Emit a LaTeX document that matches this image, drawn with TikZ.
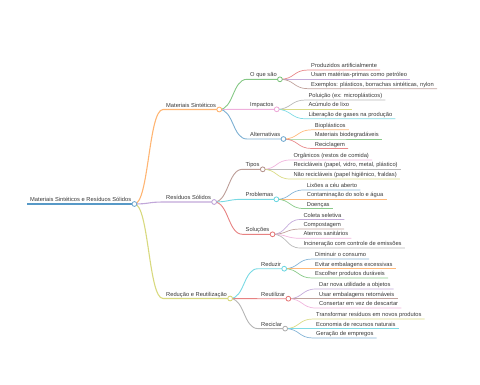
\documentclass[tikz,border=0pt]{standalone}
\usepackage{fontspec}
\setmainfont{Liberation Sans}
\usepackage{xcolor}
\usepackage{tikz}
\usetikzlibrary{calc}

\definecolor{mmblue}{HTML}{1F77B4}
\definecolor{mmorange}{HTML}{FF7F0E}
\definecolor{mmgreen}{HTML}{2CA02C}
\definecolor{mmred}{HTML}{D62728}
\definecolor{mmpurple}{HTML}{9467BD}
\definecolor{mmbrown}{HTML}{8C564B}
\definecolor{mmpink}{HTML}{E377C2}
\definecolor{mmgray}{HTML}{7F7F7F}
\definecolor{mmolive}{HTML}{BCBD22}
\definecolor{mmcyan}{HTML}{17BECF}

\begin{document}
\begin{tikzpicture}[x=1pt,y=-1pt,font=\fontsize{5.75pt}{7pt}\selectfont,
  lbl/.style={anchor=south west,inner xsep=3pt,inner ysep=1.1pt,text height=4.2pt,text depth=1.2pt,text=black!78},
  link/.style={to path={.. controls +(14.5,0) and +(-14.5,0) .. (\tikztotarget) \tikztonodes}},
  lvlone/.style={draw=#1!58!white,line width=1.1pt},
  lvltwo/.style={draw=#1!58!white,line width=0.9pt},
  leaf/.style={draw=#1!55!white,line width=0.7pt},
  knob/.style={draw=#1!65!white,fill=white,line width=0.8pt}]
\useasboundingbox (0,0) rectangle (480,384);

% root and main branches
\node[lbl] (root) at (27,204) {Materiais Sintéticos e Resíduos Sólidos};
\node[lbl] (ms) at (163,109.5) {Materiais Sintéticos};
\node[lbl] (rs) at (163,202) {Resíduos Sólidos};
\node[lbl] (rr) at (163,298.5) {Redução e Reutilização};

\node[lbl] (oqs) at (247,79.3) {O que são};
\node[lbl] (imp) at (247,109.3) {Impactos};
\node[lbl] (alt) at (247,139) {Alternativas};
\node[lbl] (tip) at (242.5,169.3) {Tipos};
\node[lbl] (prb) at (242.5,199.3) {Problemas};
\node[lbl] (sol) at (242.5,234.3) {Soluções};
\node[lbl] (red) at (258,268.7) {Reduzir};
\node[lbl] (reu) at (258,298.7) {Reutilizar};
\node[lbl] (rec) at (258,328.6) {Reciclar};

\draw[draw=mmblue!75!white,line width=1.4pt] (root.south west) -- (root.south east);
\foreach \a/\b/\c in {root/ms/mmorange,root/rs/mmpurple,root/rr/mmolive}
  \draw[lvlone=\c] (\a.south east) to[link] (\b.south west) -- (\b.south east);
\foreach \a/\b/\c in {ms/oqs/mmgreen,ms/imp/mmpink,ms/alt/mmblue,rs/tip/mmbrown,rs/prb/mmcyan,rs/sol/mmred,rr/red/mmcyan,rr/reu/mmred,rr/rec/mmgray}
  \draw[lvltwo=\c] (\a.south east) to[link] (\b.south west) -- (\b.south east);

% leaves
\foreach \y/\c/\t [count=\i] in {70/mmred/Produzidos artificialmente,79.3/mmpurple/Usam matérias-primas como petróleo,88.7/mmbrown/{Exemplos: plásticos, borrachas sintéticas, nylon}} {
  \node[lbl] (oqs\i) at (308,\y) {\t};
  \draw[leaf=\c] (oqs.south east) to[link] (oqs\i.south west) -- (oqs\i.south east);
}
\foreach \y/\c/\t [count=\i] in {100/mmgray/Poluição (ex: microplásticos),109.3/mmolive/Acúmulo de lixo,118.8/mmcyan/Liberação de gases na produção} {
  \node[lbl] (imp\i) at (305.3,\y) {\t};
  \draw[leaf=\c] (imp.south east) to[link] (imp\i.south west) -- (imp\i.south east);
}
\foreach \y/\c/\t [count=\i] in {129.8/mmorange/Bioplásticos,139/mmgreen/Materiais biodegradáveis,148.5/mmred/Reciclagem} {
  \node[lbl] (alt\i) at (311.7,\y) {\t};
  \draw[leaf=\c] (alt.south east) to[link] (alt\i.south west) -- (alt\i.south east);
}
\foreach \y/\c/\t [count=\i] in {160/mmpink/Orgânicos (restos de comida),169.3/mmgray/{Recicláveis (papel, vidro, metal, plástico)},179/mmolive/{Não recicláveis (papel higiênico, fraldas)}} {
  \node[lbl] (tip\i) at (290.3,\y) {\t};
  \draw[leaf=\c] (tip.south east) to[link] (tip\i.south west) -- (tip\i.south east);
}
\foreach \y/\c/\t [count=\i] in {190/mmblue/Lixões a céu aberto,199.3/mmorange/Contaminação do solo e água,208.5/mmgreen/Doenças} {
  \node[lbl] (prb\i) at (303.7,\y) {\t};
  \draw[leaf=\c] (prb.south east) to[link] (prb\i.south west) -- (prb\i.south east);
}
\foreach \y/\c/\t [count=\i] in {219.5/mmpurple/Coleta seletiva,229/mmbrown/Compostagem,238.3/mmpink/Aterros sanitários,248/mmgray/Incineração com controle de emissões} {
  \node[lbl] (sol\i) at (300.3,\y) {\t};
  \draw[leaf=\c] (sol.south east) to[link] (sol\i.south west) -- (sol\i.south east);
}
\foreach \y/\c/\t [count=\i] in {259/mmblue/Diminuir o consumo,268.7/mmorange/Evitar embalagens excessivas,278/mmgreen/Escolher produtos duráveis} {
  \node[lbl] (red\i) at (312,\y) {\t};
  \draw[leaf=\c] (red.south east) to[link] (red\i.south west) -- (red\i.south east);
}
\foreach \y/\c/\t [count=\i] in {289/mmpurple/Dar nova utilidade a objetos,298.7/mmbrown/Usar embalagens retornáveis,308/mmpink/Consertar em vez de descartar} {
  \node[lbl] (reu\i) at (316,\y) {\t};
  \draw[leaf=\c] (reu.south east) to[link] (reu\i.south west) -- (reu\i.south east);
}
\foreach \y/\c/\t [count=\i] in {319/mmolive/Transformar resíduos em novos produtos,328.6/mmcyan/Economia de recursos naturais,338/mmblue/Geração de empregos} {
  \node[lbl] (rec\i) at (313,\y) {\t};
  \draw[leaf=\c] (rec.south east) to[link] (rec\i.south west) -- (rec\i.south east);
}

% knobs on top
\foreach \n/\c in {root/mmblue,ms/mmorange,rs/mmpurple,rr/mmolive,oqs/mmgreen,imp/mmpink,alt/mmblue,tip/mmbrown,prb/mmcyan,sol/mmred,red/mmcyan,reu/mmred,rec/mmgray}
  \draw[knob=\c] (\n.south east) circle (2.4);
\end{tikzpicture}
\end{document}
